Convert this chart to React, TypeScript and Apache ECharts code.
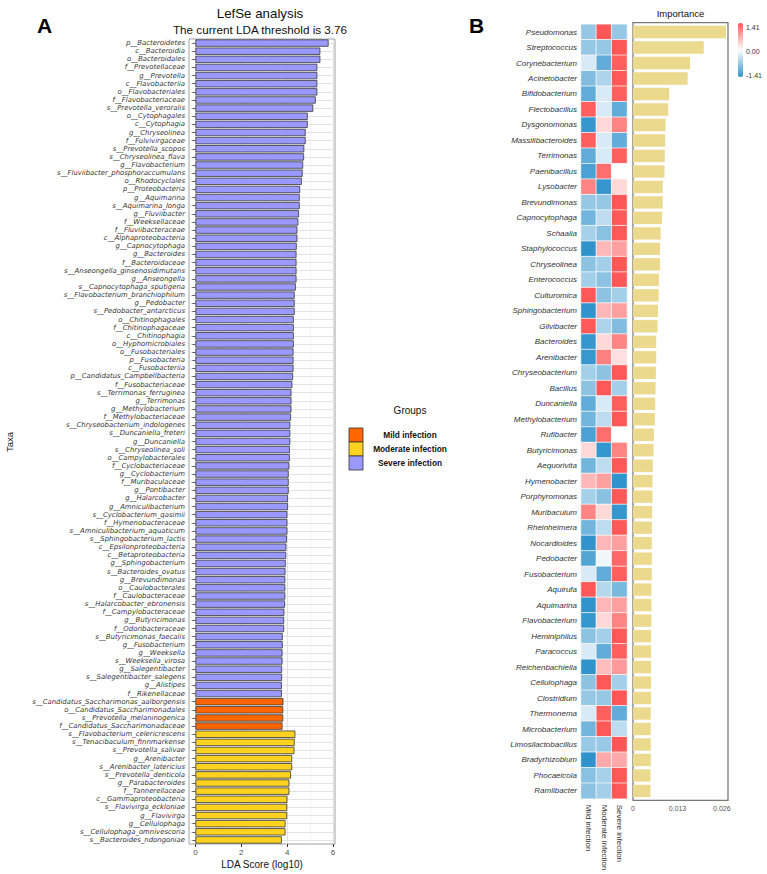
import React, { useEffect, useRef } from 'react';
import * as echarts from 'echarts';

const FONT = "'Liberation Sans', Arial, Helvetica, sans-serif";
const TAXA_FONT = "'DejaVu Sans', Verdana, sans-serif";

// ---- Panel A: LEfSe, LDA score (log10) of discriminant taxa per group ----
const severeTaxa = [
  'p__Bacteroidetes', 'c__Bacteroidia', 'o__Bacteroidales', 'f__Prevotellaceae', 'g__Prevotella',
  'c__Flavobacteriia', 'o__Flavobacteriales', 'f__Flavobacteriaceae', 's__Prevotella_veroralis',
  'o__Cytophagales', 'c__Cytophagia', 'g__Chryseolinea', 'f__Fulvivirgaceae', 's__Prevotella_scopos',
  's__Chryseolinea_flava', 'g__Flavobacterium', 's__Fluviibacter_phosphoraccumulans', 'o__Rhodocyclales',
  'p__Proteobacteria', 'g__Aquimarina', 's__Aquimarina_longa', 'g__Fluviibacter', 'f__Weeksellaceae',
  'f__Fluviibacteraceae', 'c__Alphaproteobacteria', 'g__Capnocytophaga', 'g__Bacteroides',
  'f__Bacteroidaceae', 's__Anseongella_ginsenosidimutans', 'g__Anseongella', 's__Capnocytophaga_sputigena',
  's__Flavobacterium_branchiophilum', 'g__Pedobacter', 's__Pedobacter_antarcticus', 'o__Chitinophagales',
  'f__Chitinophagaceae', 'c__Chitinophagia', 'o__Hyphomicrobiales', 'o__Fusobacteriales', 'p__Fusobacteria',
  'c__Fusobacteriia', 'p__Candidatus_Campbellbacteria', 'f__Fusobacteriaceae', 's__Terrimonas_ferruginea',
  'g__Terrimonas', 'g__Methylobacterium', 'f__Methylobacteriaceae', 's__Chryseobacterium_indologenes',
  's__Duncaniella_freteri', 'g__Duncaniella', 's__Chryseolinea_soli', 'o__Campylobacterales',
  'f__Cyclobacteriaceae', 'g__Cyclobacterium', 'f__Muribaculaceae', 'g__Pontibacter', 'g__Halarcobacter',
  'g__Amniculibacterium', 's__Cyclobacterium_qasimii', 'f__Hymenobacteraceae', 's__Amniculibacterium_aquaticum',
  's__Sphingobacterium_lactis', 'c__Epsilonproteobacteria', 'c__Betaproteobacteria', 'g__Sphingobacterium',
  's__Bacteroides_ovatus', 'g__Brevundimonas', 'o__Caulobacterales', 'f__Caulobacteraceae',
  's__Halarcobacter_ebronensis', 'f__Campylobacteraceae', 'g__Butyricimonas', 'f__Odoribacteraceae',
  's__Butyricimonas_faecalis', 'g__Fusobacterium', 'g__Weeksella', 's__Weeksella_virosa', 'g__Salegentibacter',
  's__Salegentibacter_salegens', 'g__Alistipes', 'f__Rikenellaceae',
];
const severeLda = [
  5.81, 5.45, 5.45, 5.32, 5.32, 5.32, 5.32, 5.25, 5.14, 4.90, 4.90, 4.81, 4.81, 4.75, 4.74, 4.70, 4.68, 4.64,
  4.57, 4.55, 4.55, 4.52, 4.49, 4.45, 4.45, 4.42, 4.41, 4.41, 4.41, 4.41, 4.38, 4.33, 4.33, 4.33, 4.29, 4.29,
  4.29, 4.29, 4.28, 4.28, 4.28, 4.26, 4.23, 4.19, 4.19, 4.19, 4.17, 4.14, 4.14, 4.14, 4.12, 4.12, 4.10, 4.07,
  4.07, 4.07, 4.04, 4.04, 4.01, 4.01, 4.01, 3.99, 3.97, 3.96, 3.94, 3.93, 3.92, 3.92, 3.92, 3.91, 3.88, 3.87,
  3.87, 3.81, 3.81, 3.80, 3.80, 3.78, 3.78, 3.77, 3.77,
];
const mildTaxa = [
  's__Candidatus_Saccharimonas_aalborgensis', 'o__Candidatus_Saccharimonadales',
  's__Prevotella_melaninogenica', 'f__Candidatus_Saccharimonadaceae',
];
const mildLda = [3.84, 3.83, 3.83, 3.80];
const moderateTaxa = [
  's__Flavobacterium_celericrescens', 's__Tenacibaculum_finnmarkense', 's__Prevotella_salivae',
  'g__Arenibacter', 's__Arenibacter_latericius', 's__Prevotella_denticola', 'g__Parabacteroides',
  'f__Tannerellaceae', 'c__Gammaproteobacteria', 's__Flavivirga_eckloniae', 'g__Flavivirga',
  'g__Cellulophaga', 's__Cellulophaga_omnivescoria', 's__Bacteroides_ndongoniae',
];
const moderateLda = [4.36, 4.33, 4.32, 4.22, 4.22, 4.17, 4.10, 4.10, 4.01, 4.00, 4.00, 3.93, 3.93, 3.77];

const ldaTicks = [0, 2, 4, 6];
const ldaThreshold = 3.76;

// ---- Panel B: genus importance and row-scaled abundance per group ----
const genera = [
  'Pseudomonas', 'Streptococcus', 'Corynebacterium', 'Acinetobacter', 'Bifidobacterium', 'Flectobacillus',
  'Dysgonomonas', 'Massilibacteroides', 'Terrimonas', 'Paenibacillus', 'Lysobacter', 'Brevundimonas',
  'Capnocytophaga', 'Schaalia', 'Staphylococcus', 'Chryseolinea', 'Enterococcus', 'Culturomica',
  'Sphingobacterium', 'Gilvibacter', 'Bacteroides', 'Arenibacter', 'Chryseobacterium', 'Bacillus',
  'Duncaniella', 'Methylobacterium', 'Rufibacter', 'Butyricimonas', 'Aequorivita', 'Hymenobacter',
  'Porphyromonas', 'Muribaculum', 'Rheinheimera', 'Nocardioides', 'Pedobacter', 'Fusobacterium', 'Aquirufa',
  'Aquimarina', 'Flavobacterium', 'Heminiphilus', 'Paracoccus', 'Reichenbachiella', 'Cellulophaga',
  'Clostridium', 'Thermonema', 'Microbacterium', 'Limosilactobacillus', 'Bradyrhizobium', 'Phocaeicola',
  'Ramlibacter',
];
const importance = [
  0.0272, 0.0207, 0.0167, 0.0160, 0.0106, 0.0103, 0.0095, 0.0094, 0.0093, 0.0092, 0.0087, 0.0087, 0.0085,
  0.0081, 0.0079, 0.0079, 0.0076, 0.0075, 0.0073, 0.0072, 0.0068, 0.0068, 0.0067, 0.0066, 0.0065, 0.0064,
  0.0061, 0.0060, 0.0058, 0.0057, 0.0057, 0.0056, 0.0055, 0.0055, 0.0055, 0.0055, 0.0054, 0.0054, 0.0054,
  0.0053, 0.0053, 0.0053, 0.0053, 0.0053, 0.0052, 0.0052, 0.0052, 0.0052, 0.0051, 0.0051,
];
const mildZ = [
  -0.71, -0.71, -0.27, -0.85, -1.07, 1.34, -1.36, 1.34, -1.07, -1.22, 1.03, -0.71, -0.95, -0.60, -1.40,
  -0.78, -0.62, 1.40, -1.40, 1.40, -1.36, -1.34, -0.62, -0.78, -1.07, -0.95, -1.22, 0.33, -0.95, 0.60,
  -0.60, 1.03, -0.95, -1.40, -1.17, -0.27, 1.40, -1.40, -1.36, -0.78, -0.27, -1.40, -0.78, -0.71, -0.27,
  -0.95, -0.70, -1.41, -0.80, -0.78,
];
const moderateZ = [
  1.41, -0.71, -1.07, -0.55, -0.27, -0.27, 0.33, -0.27, -0.27, 1.22, -1.36, -0.71, -0.45, -0.80, 0.60,
  -0.62, -0.78, -0.78, 0.60, -0.55, 0.33, 1.07, -0.78, 1.40, -0.27, -0.45, 1.22, -1.36, -0.45, 0.80,
  -0.80, 0.33, -0.45, 0.60, -0.10, -1.07, -0.50, 0.60, 0.33, -0.62, -1.07, 0.55, 1.40, -0.71, 1.34,
  1.40, -0.70, 0.71, -0.60, -0.62,
];
const severeZ = [
  -0.71, 1.41, 1.34, 1.40, 1.34, -1.07, 1.03, -1.07, 1.34, 0.00, 0.33, 1.41, 1.40, 1.40, 0.80,
  1.40, 1.40, -0.62, 0.80, -0.85, 1.03, 0.27, 1.40, -0.62, 1.34, 1.40, 0.00, 1.03, 1.40, -1.40,
  1.40, -1.36, 1.40, 0.80, 1.27, 1.34, -0.90, 0.80, 1.03, 1.40, 1.34, 0.85, -0.62, 1.41, -1.07,
  -0.45, 1.41, 0.71, 1.40, 1.40,
];
const heatGroups = ['Mild infection', 'Moderate infection', 'Severe infection'];
const zRange = [-1.41, 0, 1.41];
const importanceTicks = [0, 0.013, 0.026];

const MILD = '#FF6600';
const MODERATE = '#FFD21F';
const SEVERE = '#9999FF';
const HEAT_COLORS = ['#2F92CC', '#FFFFFF', '#FF5757'];
const IMPORTANCE_COLOR = '#EBD98D';

const taxaA = [...severeTaxa, ...mildTaxa, ...moderateTaxa];

function ldaSeries(name: string, taxa: string[], lda: number[], color: string) {
  return {
    type: 'bar',
    name,
    xAxisIndex: 0,
    yAxisIndex: 0,
    stack: 'lda',
    barCategoryGap: '10%',
    data: taxaA.map((t) => {
      const i = taxa.indexOf(t);
      return i >= 0 ? lda[i] : '-';
    }),
    itemStyle: { color, borderColor: '#3a3a3a', borderWidth: 0.8 },
  };
}

const heatData: number[][] = [];
genera.forEach((_, row) => {
  [mildZ, moderateZ, severeZ].forEach((col, c) => heatData.push([c, row, col[row]]));
});

function txt(text: string, x: number, y: number, size: number, extra: any = {}) {
  return {
    type: 'text',
    x,
    y,
    rotation: extra.rotation || 0,
    silent: true,
    style: {
      text,
      fontSize: size,
      fontFamily: FONT,
      fontWeight: extra.weight || 'normal',
      fill: extra.fill || '#111',
      align: extra.align || 'center',
      verticalAlign: 'middle',
      textAlign: extra.align || 'center',
      textVerticalAlign: 'middle',
    },
  };
}

export default function App() {
  const ref = useRef<HTMLDivElement>(null);

  useEffect(() => {
    if (!ref.current) return;
    const chart = echarts.init(ref.current, undefined, { renderer: 'svg' });

    const legendItems = [
      { label: 'Mild infection', color: MILD },
      { label: 'Moderate infection', color: MODERATE },
      { label: 'Severe infection', color: SEVERE },
    ];

    const graphic: any[] = [
      txt('A', 44.7, 25, 21, { weight: 'bold', fill: '#000' }),
      txt('B', 476.5, 25.5, 21, { weight: 'bold', fill: '#000' }),
      txt('LefSe analysis', 260, 13.5, 13.3),
      txt(`The current LDA threshold is ${ldaThreshold}`, 260, 29.3, 11.7),
      txt('Taxa', 9, 442, 9.5, { rotation: Math.PI / 2 }),
      txt('LDA Score (log10)', 262, 864, 10),
      txt('Groups', 410, 410, 10),
      txt('Importance', 680.5, 13, 9.5),
      {
        type: 'rect',
        silent: true,
        shape: { x: 633, y: 22.7, width: 95, height: 777.6 },
        style: { fill: 'none', stroke: '#7A7A7A', lineWidth: 1.3 },
      },
    ];
    legendItems.forEach((it, i) => {
      graphic.push({
        type: 'rect',
        silent: true,
        shape: { x: 349, y: 428 + i * 14, width: 14, height: 14 },
        style: { fill: it.color, stroke: '#333', lineWidth: 0.8 },
      });
      graphic.push(txt(it.label, 410, 435 + i * 14, 8.3, { weight: 'bold' }));
    });
    [zRange[2], zRange[1], zRange[0]].forEach((v, i) => {
      graphic.push(txt(v.toFixed(2), 746, 27 + i * 24, 7, { align: 'left', fill: '#333' }));
    });

    const option: any = {
      animation: false,
      backgroundColor: '#ffffff',
      textStyle: { fontFamily: FONT },
      grid: [
        { left: 189, top: 39, width: 146, height: 805, show: true, borderColor: '#A0A0A0', borderWidth: 1 },
        { left: 581, top: 24.3, width: 46, height: 774.4 },
        { left: 633, top: 24.3, width: 95, height: 774.4 },
      ],
      xAxis: [
        {
          type: 'value',
          gridIndex: 0,
          min: -0.28,
          max: 6.09,
          splitNumber: 3,
          axisLine: { show: false },
          axisTick: { show: true, length: 3, customValues: ldaTicks, lineStyle: { color: '#333' } },
          axisLabel: { customValues: ldaTicks, fontSize: 8, color: '#4D4D4D', margin: 4 },
          splitLine: { show: true, lineStyle: { color: '#DCDCDC', width: 0.8 } },
          minorTick: { show: false, splitNumber: 2 },
          minorSplitLine: { show: true, lineStyle: { color: '#EBEBEB', width: 0.6 } },
        },
        {
          type: 'category',
          gridIndex: 1,
          data: heatGroups,
          axisLine: { show: false },
          axisTick: { show: false },
          axisLabel: { rotate: -90, fontSize: 8, color: '#333', margin: 6, interval: 0 },
        },
        {
          type: 'value',
          gridIndex: 2,
          min: 0,
          max: 0.0278,
          interval: 0.013,
          axisLine: { show: false },
          axisTick: { show: false },
          splitLine: { show: false },
          axisLabel: {
            customValues: importanceTicks,
            fontSize: 7,
            color: '#555',
            margin: 6,
            formatter: (v: number) => (v === 0 ? '0' : v.toFixed(3)),
          },
        },
      ],
      yAxis: [
        {
          type: 'category',
          gridIndex: 0,
          data: taxaA,
          inverse: true,
          axisLine: { show: false },
          axisTick: { show: true, alignWithLabel: true, length: 3, lineStyle: { color: '#333', width: 0.8 } },
          axisLabel: {
            interval: 0,
            fontSize: 6.9,
            fontFamily: TAXA_FONT,
            fontStyle: 'italic',
            color: '#333',
            margin: 4,
          },
          splitLine: { show: true, alignWithLabel: true, interval: 0, lineStyle: { color: '#DCDCDC', width: 0.8 } },
        },
        {
          type: 'category',
          gridIndex: 1,
          data: genera,
          inverse: true,
          axisLine: { show: false },
          axisTick: { show: false },
          axisLabel: { interval: 0, fontSize: 8, fontStyle: 'italic', color: '#333', margin: 4 },
        },
        {
          type: 'category',
          gridIndex: 2,
          data: genera,
          inverse: true,
          show: false,
        },
      ],
      visualMap: {
        type: 'continuous',
        seriesIndex: 3,
        min: zRange[0],
        max: zRange[2],
        calculable: false,
        show: true,
        orient: 'vertical',
        left: 738,
        top: 23,
        itemWidth: 5,
        itemHeight: 54,
        padding: 0,
        text: null,
        inRange: { color: HEAT_COLORS },
      },
      series: [
        ldaSeries('Severe infection', severeTaxa, severeLda, SEVERE),
        ldaSeries('Mild infection', mildTaxa, mildLda, MILD),
        ldaSeries('Moderate infection', moderateTaxa, moderateLda, MODERATE),
        {
          type: 'heatmap',
          xAxisIndex: 1,
          yAxisIndex: 1,
          data: heatData,
          itemStyle: { borderColor: '#FFFFFF', borderWidth: 0.7 },
        },
        {
          type: 'bar',
          xAxisIndex: 2,
          yAxisIndex: 2,
          data: importance,
          barWidth: '80%',
          itemStyle: { color: IMPORTANCE_COLOR },
        },
      ],
      graphic,
    };

    chart.setOption(option);
    return () => chart.dispose();
  }, []);

  return (
    <div
      ref={ref}
      style={{ position: 'fixed', left: 0, top: 0, width: 767, height: 874, background: '#fff' }}
    />
  );
}
